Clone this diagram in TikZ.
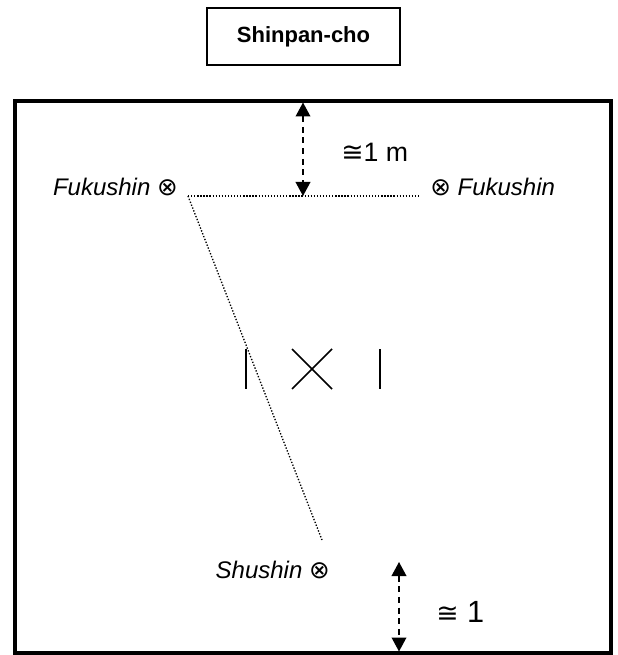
\documentclass[tikz,border=0pt]{standalone}
\usepackage{fontspec}
\setmainfont{Liberation Sans}
\newfontfamily\symfont{DejaVu Sans}
\usetikzlibrary{arrows.meta}
\newcommand{\otimesmark}{{\upshape\symfont\fontsize{18.5}{20}\selectfont ⊗}}
\begin{document}
\begin{tikzpicture}[x=0.75pt,y=-0.75pt,
  frame/.style={line width=3pt},
  titlebox/.style={draw, line width=1.5pt, minimum width=144.75pt, minimum height=42.75pt, inner sep=0pt, font=\bfseries\fontsize{16.5}{19}\selectfont},
  judge/.style={inner sep=0pt, font=\itshape\fontsize{18}{21}\selectfont},
  dimtext/.style={inner sep=0pt, font=\fontsize{20}{23}\selectfont},
  dimtextb/.style={inner sep=0pt, font=\fontsize{23}{27}\selectfont},
  dist/.style={line width=1.2pt, dash pattern=on 4.5pt off 3.5pt, {Triangle[length=10.5pt,width=11pt]}-{Triangle[length=10.5pt,width=11pt]}},
  sight/.style={line width=1pt, dash pattern=on 1pt off 1.3pt},
  markline/.style={line width=1.5pt},
  crossline/.style={line width=1.3pt}
]
\useasboundingbox (0,0) rectangle (617,655);
% title box
\node[titlebox] (shinpan) at (303.5,36.5) {Shinpan-cho};
% court frame
\draw[frame] (15,101) rectangle (610.5,653);
% judges
\node[judge, anchor=base east] (fukuL) at (178,196) {Fukushin \otimesmark};
\node[judge, anchor=base west] (fukuR) at (430,196) {\otimesmark\ Fukushin};
\node[judge, anchor=base east] (shushin) at (330,578) {Shushin \otimesmark};
% sight lines
\coordinate (pL) at (188,196);
\coordinate (pR) at (421,196);
\coordinate (pS) at (322,540);
\draw[sight] (pL) -- (pR);
\draw[sight] (pL) -- (pS);
% distances
\coordinate (topin) at (303,102.5);
\coordinate (topline) at (303,196);
\draw[dist] (topin) -- (topline);
\node[dimtext, anchor=base west] (dim1) at (341,162) {{\symfont ≅}1 m};
\coordinate (botstart) at (399,562);
\coordinate (botin) at (399,651.5);
\draw[dist] (botstart) -- (botin);
\node[dimtextb, anchor=base west] (dim2) at (436,622) {{\symfont\fontsize{20}{20}\selectfont ≅} 1};
% start marks
\coordinate (m1a) at (246,349); \coordinate (m1b) at (246,389);
\coordinate (xa) at (292,349); \coordinate (xb) at (332,389);
\coordinate (xc) at (292,389); \coordinate (xd) at (332,349);
\coordinate (m2a) at (380,349); \coordinate (m2b) at (380,389);
\draw[markline] (m1a) -- (m1b);
\draw[crossline] (xa) -- (xb);
\draw[crossline] (xc) -- (xd);
\draw[markline] (m2a) -- (m2b);
\end{tikzpicture}
\end{document}
